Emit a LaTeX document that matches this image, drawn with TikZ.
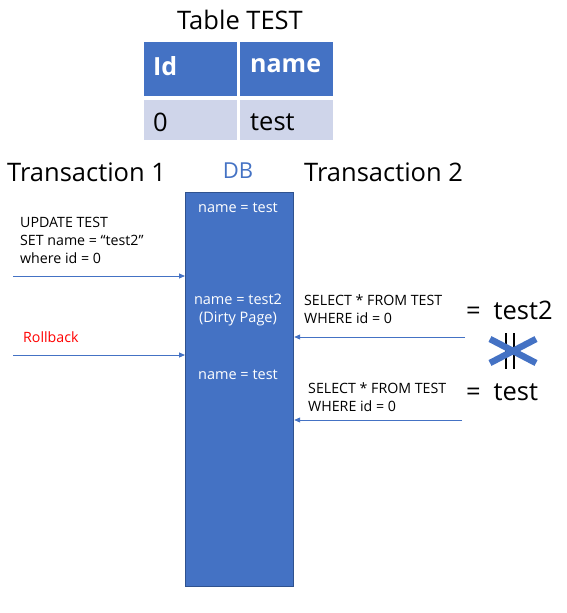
\documentclass[tikz,border=0pt]{standalone}
\usepackage{fontspec}
\setmainfont{Open Sans}
\usetikzlibrary{arrows.meta}
\definecolor{mblue}{HTML}{4472C4}
\definecolor{dblue}{HTML}{2F528F}
\definecolor{lrow}{HTML}{CFD5EA}
\definecolor{mred}{HTML}{FF0000}
\tikzset{
  big/.style={font=\fontsize{25.5}{30}\selectfont, inner sep=0pt},
  small/.style={font=\fontsize{14.2}{18}\selectfont, inner sep=0pt, align=left},
  hdr/.style={fill=mblue, anchor=north west, inner sep=0pt},
  cell/.style={fill=lrow, anchor=north west, inner sep=0pt},
  arr/.style={draw=mblue, line width=0.9pt, -{Triangle[length=6pt,width=5pt]}},
  dbtxt/.style={font=\fontsize{14.5}{18}\selectfont, text=white, inner sep=0pt, align=center}
}
\begin{document}
\begin{tikzpicture}[x=1pt,y=-1pt]
\useasboundingbox (0,0) rectangle (567,613);
% table
\node[big] (title) at (240,20) {Table TEST};
\node[hdr, minimum width=93pt, minimum height=54pt] (hid) at (144,42) {};
\node[hdr, minimum width=93pt, minimum height=54pt] (hname) at (240,42) {};
\node[big, font=\fontsize{25}{30}\selectfont\bfseries, text=white, anchor=west] (tid) at (153,66) {Id};
\node[big, font=\fontsize{25}{30}\selectfont\bfseries, text=white, anchor=west] (tname) at (250,66) {name};
\node[cell, minimum width=93pt, minimum height=40pt] (c0) at (144,100) {};
\node[cell, minimum width=93pt, minimum height=40pt] (c1) at (240,100) {};
\node[big, anchor=west] (t0) at (153,122) {0};
\node[big, anchor=west] (ttest) at (250,122) {test};
% headings
\node[big, anchor=west] (tr1) at (7,172) {Transaction 1};
\node[big, anchor=west] (tr2) at (304,172) {Transaction 2};
\node[big, text=mblue, font=\fontsize{22}{26}\selectfont] (dbl) at (238,171) {DB};
% DB
\node[draw=dblue, fill=mblue, line width=1.2pt, anchor=north west, minimum width=108pt, minimum height=394pt, inner sep=0pt] (db) at (185,192) {};
\node[dbtxt] (n1) at (238,208) {name = test};
\node[dbtxt] (n2) at (238,310) {name = test2\\(Dirty Page)};
\node[dbtxt] (n3) at (238,375) {name = test};
% left
\node[small, anchor=north west] (upd) at (20,217) {UPDATE TEST\\SET name = “test2”\\where id = 0};
\coordinate (a1) at (13,276);
\draw[arr] (a1) -- (db.west |- a1);
\node[small, text=mred, anchor=west] (rb) at (23,337) {Rollback};
\coordinate (a2) at (13,355);
\draw[arr] (a2) -- (db.west |- a2);
% right
\node[small, anchor=north west] (s1) at (304,295) {SELECT * FROM TEST\\WHERE id = 0};
\coordinate (b1) at (465,337);
\draw[arr] (b1) -- (db.east |- b1);
\node[small, anchor=north west] (s2) at (308,383) {SELECT * FROM TEST\\WHERE id = 0};
\coordinate (b2) at (462,420);
\draw[arr] (b2) -- (db.east |- b2);
\node[big, anchor=west] (r1) at (466,310) {=\,\,\,test2};
\node[big, anchor=west] (r2) at (466,392) {=\,\,\,test};
% not equal
\draw[line width=1.6pt] (506,333) -- (506,369);
\draw[line width=1.6pt] (514,333) -- (514,369);
\draw[mblue, line width=6.5pt] (490,339) -- (536,363);
\draw[mblue, line width=6.5pt] (490,363) -- (536,339);
\end{tikzpicture}
\end{document}
